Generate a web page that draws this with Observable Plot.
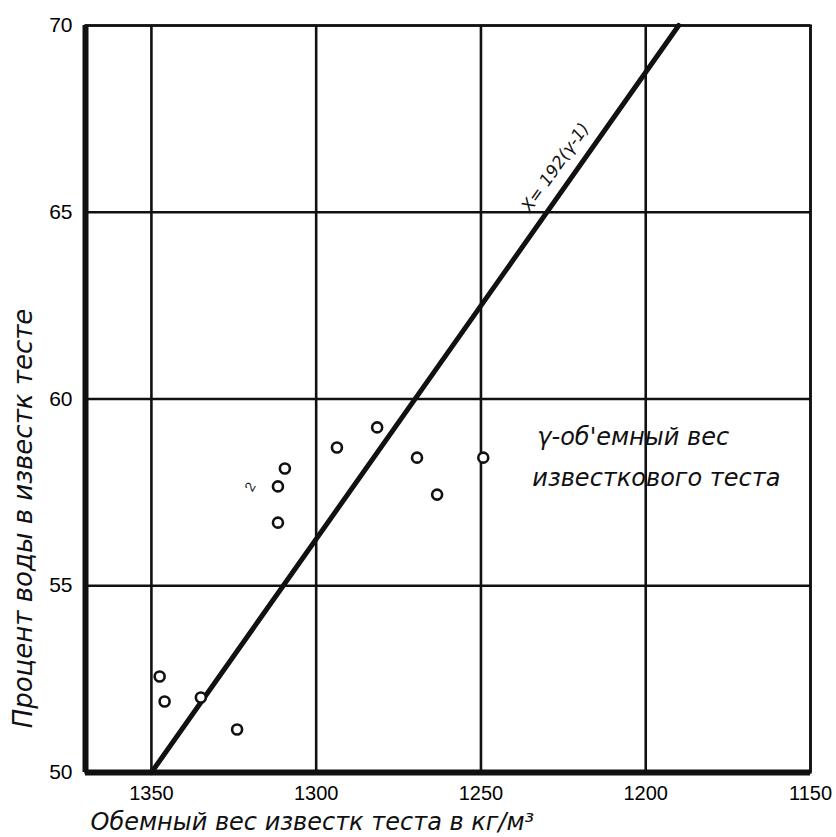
<!DOCTYPE html>
<html>
<head>
<meta charset="utf-8">
<script src="https://cdn.jsdelivr.net/npm/d3@7"></script>
<script src="https://cdn.jsdelivr.net/npm/@observablehq/plot@0.6"></script>
<style>
  html, body { margin: 0; padding: 0; background: #fff; }
  #chart { width: 836px; height: 837px; }
</style>
</head>
<body>
<div id="chart"></div>
<script>
// ---- data ----
const xDomain = [1370, 1150];
const yDomain = [50, 70];
const xTicks = [1350, 1300, 1250, 1200, 1150];
const yTicks = [50, 55, 60, 65, 70];

// measured points: volume weight (kg/m3) vs water percent
const density = [1347.5, 1346, 1335, 1324, 1311.6, 1311.6, 1309.5, 1293.7, 1281.5, 1269.4, 1263.3, 1249.3];
const water   = [52.57, 51.90, 52.01, 51.15, 56.69, 57.66, 58.14, 58.70, 59.24, 58.43, 57.44, 58.43];

// theoretical line X = 192(γ-1)
const lineDensity = [1350, 1190];
const lineWater = [50, 70];

const xLabel = "Обемный вес известк теста в кг/м³";
const yLabel = "Процент воды в известк тесте";
const yLabelPos = {x: 1388.8, y: 56.8};
const formulaLabel = "Х= 192(γ-1)";
const formulaPos = {x: 1227.4, y: 66.2};
const noteLines = ["γ-об'емный вес", "известкового теста"];
const noteX = [1232.9, 1234.4];
const noteY = [58.97, 57.87];
const smallMark = {text: "2", x: 1320, y: 57.65};

const points = density.map((d, i) => ({d, w: water[i]}));
const line = lineDensity.map((d, i) => ({d, w: lineWater[i]}));
const notes = noteLines.map((t, i) => ({t, x: noteX[i], y: noteY[i]}));

const italicFont = "'DejaVu Sans', sans-serif";
const tickFont = "'Liberation Sans', Arial, sans-serif";

const chart = Plot.plot({
  width: 836,
  height: 837,
  marginLeft: 85,
  marginRight: 26,
  marginTop: 25,
  marginBottom: 65,
  clip: false,
  style: {background: "#fff", color: "#000", fontFamily: tickFont, fontSize: "21px", overflow: "visible"},
  x: {domain: xDomain, axis: null},
  y: {domain: yDomain, axis: null},
  marks: [
    Plot.ruleX(xTicks, {stroke: "#111", strokeWidth: 2.6}),
    Plot.ruleY(yTicks, {stroke: "#111", strokeWidth: 2.6}),
    Plot.frame({stroke: "#111", strokeWidth: 2.4}),
    Plot.ruleX([xDomain[0]], {stroke: "#111", strokeWidth: 6}),
    Plot.ruleY([yDomain[0]], {stroke: "#111", strokeWidth: 6}),
    Plot.line(line, {x: "d", y: "w", stroke: "#111", strokeWidth: 5}),
    Plot.dot(points, {x: "d", y: "w", r: 5, stroke: "#111", strokeWidth: 2.6, fill: "#fff"}),
    Plot.axisX({ticks: xTicks, tickSize: 0, tickPadding: 13, tickFormat: d => String(d), fontSize: 20, fontFamily: tickFont, label: null}),
    Plot.axisY({ticks: yTicks, tickSize: 0, tickPadding: 13, tickFormat: d => String(d), fontSize: 21, fontFamily: tickFont, label: null}),
    Plot.text([xLabel], {frameAnchor: "bottom-left", dx: 5, dy: 50, textAnchor: "start", lineAnchor: "middle",
      fontSize: 24, fontStyle: "italic", fontFamily: italicFont, fill: "#111"}),
    Plot.text([yLabelPos], {x: "x", y: "y", text: () => yLabel, rotate: -90, textAnchor: "middle", lineAnchor: "middle",
      fontSize: 26, fontStyle: "italic", fontFamily: italicFont, fill: "#111"}),
    Plot.text([formulaPos], {x: "x", y: "y", text: () => formulaLabel, rotate: -55, fontSize: 17,
      fontStyle: "italic", fontFamily: italicFont, fill: "#111"}),
    Plot.text(notes, {x: "x", y: "y", text: "t", textAnchor: "start", fontSize: 24,
      fontStyle: "italic", fontFamily: italicFont, fill: "#111"}),
    Plot.text([smallMark], {x: "x", y: "y", text: "text", rotate: -60, fontSize: 14, fill: "#222"})
  ]
});
document.getElementById("chart").appendChild(chart);
</script>
</body>
</html>
